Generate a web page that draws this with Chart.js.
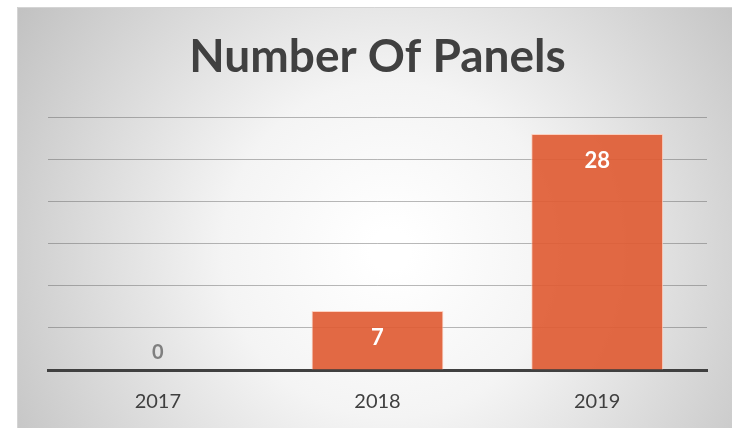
<!DOCTYPE html>
<html>
<head>
<meta charset="utf-8">
<script src="https://cdn.jsdelivr.net/npm/chart.js@4"></script>
<style>
  html, body { margin: 0; padding: 0; background: #fff; }
  #wrap { width: 732px; height: 428px; }
</style>
</head>
<body>
<div id="wrap"><canvas id="barChart"></canvas></div>
<script>
const years = ['2017', '2018', '2019'];
const panels = [0, 7, 28];
const gridTicks = [0, 5, 10, 15, 20, 25, 30];

// card background with radial shading
const cardBg = {
  id: 'cardBg',
  beforeDraw(chart) {
    const c = chart.ctx;
    c.save();
    c.fillStyle = '#ffffff';
    c.fillRect(0, 0, chart.width, chart.height);
    const g = c.createRadialGradient(390, 250, 20, 390, 250, 440);
    g.addColorStop(0, '#ffffff');
    g.addColorStop(0.35, '#f4f4f4');
    g.addColorStop(1, '#c2c2c2');
    c.fillStyle = g;
    c.fillRect(17, 7, chart.width - 17, chart.height - 7);
    c.strokeStyle = '#d4d4d4';
    c.lineWidth = 1;
    c.beginPath();
    c.moveTo(17.5, chart.height);
    c.lineTo(17.5, 7.5);
    c.lineTo(chart.width, 7.5);
    c.stroke();
    c.restore();
  }
};

// value labels inside the bar end
const barLabels = {
  id: 'barLabels',
  afterDatasetsDraw(chart) {
    const c = chart.ctx;
    const meta = chart.getDatasetMeta(0);
    c.save();
    c.textAlign = 'center';
    c.textBaseline = 'middle';
    meta.data.forEach((bar, i) => {
      const v = panels[i];
      if (v === 0) {
        c.fillStyle = '#7f7f7f';
        c.font = 'bold 20px Lato';
        c.fillText(String(v), bar.x, bar.base - 17);
      } else {
        c.fillStyle = '#ffffff';
        c.font = 'bold 22px Lato';
        c.fillText(String(v), bar.x, bar.y + 27);
      }
    });
    c.restore();
  }
};

new Chart(document.getElementById('barChart'), {
  type: 'bar',
  data: {
    labels: years,
    datasets: [{
      data: panels,
      backgroundColor: 'rgba(224, 92, 52, 0.92)',
      borderColor: 'rgba(255, 200, 180, 0.8)',
      borderWidth: 1,
      barPercentage: 0.6,
      categoryPercentage: 1.0
    }]
  },
  options: {
    responsive: true,
    maintainAspectRatio: false,
    animation: false,
    layout: { padding: { left: 48, right: 25, top: 0, bottom: -6 } },
    plugins: {
      legend: { display: false },
      tooltip: { enabled: false },
      title: {
        display: true,
        text: 'Number Of Panels',
        color: '#404040',
        font: { family: 'Lato', size: 46, weight: 'bold' },
        padding: { top: 30, bottom: 32 }
      }
    },
    scales: {
      x: {
        grid: { display: false, drawTicks: false },
        border: { display: true, color: '#404040', width: 3 },
        ticks: {
          color: '#404040',
          font: { family: 'Lato', size: 20 },
          padding: 20
        }
      },
      y: {
        min: gridTicks[0],
        max: gridTicks[gridTicks.length - 1],
        afterBuildTicks(axis) {
          axis.ticks = gridTicks.map(v => ({ value: v }));
        },
        ticks: { display: false },
        grid: { color: 'rgba(80, 80, 80, 0.4)', drawTicks: false },
        border: { display: false }
      }
    }
  },
  plugins: [cardBg, barLabels]
});
</script>
</body>
</html>
